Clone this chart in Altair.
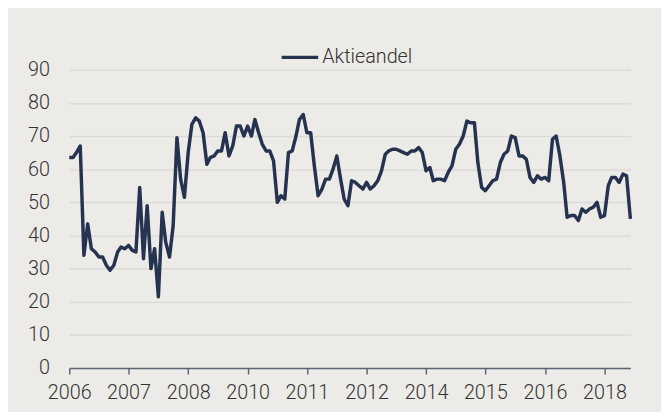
import altair as alt
import pandas as pd

series_name = "Aktieandel"
start_month = "2006-01-01"
values = [
    63.5, 63.5, 65, 67, 34, 43.5, 36, 35, 33.5, 33.5, 31, 29.5,
    31, 35, 36.5, 36, 37, 35.5, 35, 54.5, 33, 49, 30, 36,
    21.5, 47, 38, 33.5, 43, 69.5, 57, 51.5, 65, 73.5, 75.5, 74.5,
    71, 61.5, 63.5, 64, 65.5, 65.5, 71, 64, 67, 73, 73, 70,
    73, 70, 75, 71, 67.5, 65.5, 65.5, 62.5, 50, 52, 51, 65,
    65.5, 70, 75, 76.5, 71, 71, 61, 52, 54, 57, 57, 60,
    64, 57, 51, 49, 56.5, 56, 55, 54, 56, 54, 55, 56.5,
    59.5, 64.5, 65.5, 66, 66, 65.5, 65, 64.5, 65.5, 65.5, 66.5, 65,
    59.5, 60.5, 56.5, 57, 57, 56.5, 59, 61, 66, 67.5, 70, 74.5,
    74, 74, 62, 54.5, 53.5, 55, 56.5, 57, 62, 64.5, 65.5, 70,
    69.5, 64, 64, 63, 57.5, 56, 58, 57, 57.5, 56.5, 69, 70,
    64, 56, 45.5, 46, 46, 44.5, 48, 47, 48, 48.5, 50, 45.5,
    46, 55, 57.5, 57.5, 56, 58.5, 58, 45,
]
tick_dates = ["2006-01-01", "2007-05-01", "2008-09-01", "2010-01-01", "2011-05-01",
              "2012-09-01", "2014-01-01", "2015-05-01", "2016-09-01", "2018-01-01"]
y_ticks = [0, 10, 20, 30, 40, 50, 60, 70, 80, 90]

dates = pd.date_range(start_month, periods=len(values), freq="MS")
df = pd.DataFrame({
    "date": [d.strftime("%Y-%m-%d") for d in dates],
    "value": values,
    "series": series_name,
})

def ms(s):
    return int(pd.Timestamp(s, tz="UTC").timestamp() * 1000)

tick_ms = [ms(s) for s in tick_dates]
domain = [ms(dates[0].strftime("%Y-%m-%d")), ms(dates[-1].strftime("%Y-%m-%d"))]

FONT = "Roboto"
TXT = "#333333"

chart = alt.Chart(df).mark_line(strokeWidth=3.5, strokeJoin="round").encode(
    x=alt.X("date:T", scale=alt.Scale(type="utc", domain=domain, nice=False),
            axis=alt.Axis(values=tick_ms, labelExpr="utcFormat(datum.value, '%Y')",
                          title=None, grid=False, domainColor="#5b6577", domainWidth=1.5,
                          tickColor="#5b6577", tickWidth=1.5, tickSize=6,
                          labelFontSize=20, labelColor=TXT, labelFont=FONT, labelFontWeight=300,
                          labelPadding=9, labelFlush=False, labelOverlap=False)),
    y=alt.Y("value:Q", scale=alt.Scale(domain=[0, 90], nice=False),
            axis=alt.Axis(values=y_ticks, title=None, domain=False, ticks=False,
                          gridColor="#dcdad8", gridWidth=1.5,
                          labelFontSize=20, labelColor=TXT, labelFont=FONT, labelFontWeight=300,
                          labelPadding=20)),
    color=alt.Color("series:N", scale=alt.Scale(domain=[series_name], range=["#253350"]),
                    legend=alt.Legend(title=None, orient="none", legendX=213, legendY=-33,
                                      symbolType="stroke", symbolSize=1369, symbolStrokeWidth=3.5,
                                      labelFontSize=20, labelFont=FONT, labelColor=TXT,
                                      labelFontWeight=300, labelOffset=2, padding=0)),
).properties(
    width=568, height=302,
    autosize=alt.AutoSizeParams(type="none"),
    padding={"left": 62, "top": 60, "right": 31, "bottom": 42},
    background="#edebe7",
).configure_view(stroke=None)

chart.save("out.html", embed_options={"renderer": "svg", "actions": False})
